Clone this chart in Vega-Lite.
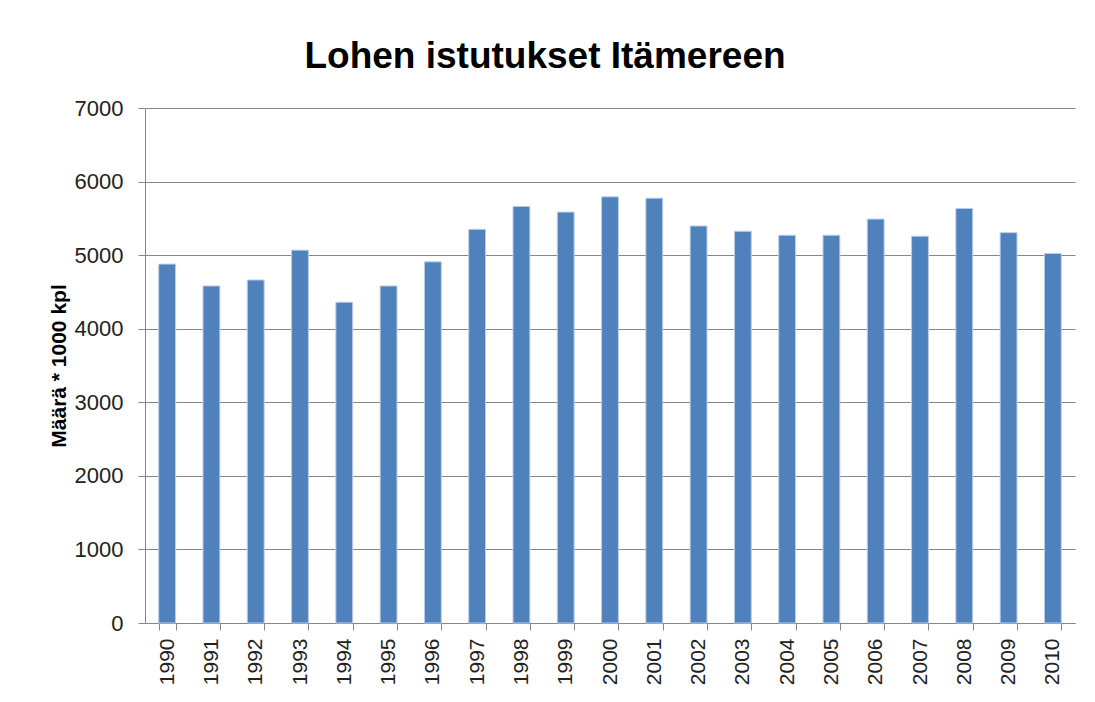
{
  "$schema": "https://vega.github.io/schema/vega-lite/v6.json",
  "autosize": {"type": "none"},
  "width": 930,
  "height": 515,
  "padding": {"left": 145, "top": 108, "right": 20, "bottom": 79},
  "background": "white",
  "title": {
    "text": "Lohen istutukset Itämereen",
    "font": "Liberation Sans",
    "fontSize": 37,
    "fontWeight": "bold",
    "color": "#000000",
    "anchor": "middle",
    "baseline": "alphabetic",
    "dx": -65,
    "dy": 48,
    "offset": 40
  },
  "data": {
    "values": [
      {"year": "1990", "value": 4878},
      {"year": "1991", "value": 4581},
      {"year": "1992", "value": 4662},
      {"year": "1993", "value": 5068},
      {"year": "1994", "value": 4360},
      {"year": "1995", "value": 4581},
      {"year": "1996", "value": 4909},
      {"year": "1997", "value": 5351},
      {"year": "1998", "value": 5662},
      {"year": "1999", "value": 5585},
      {"year": "2000", "value": 5792},
      {"year": "2001", "value": 5774},
      {"year": "2002", "value": 5396},
      {"year": "2003", "value": 5324},
      {"year": "2004", "value": 5270},
      {"year": "2005", "value": 5270},
      {"year": "2006", "value": 5490},
      {"year": "2007", "value": 5257},
      {"year": "2008", "value": 5635},
      {"year": "2009", "value": 5306},
      {"year": "2010", "value": 5022}
    ]
  },
  "mark": {"type": "bar", "color": "#4F81BD", "stroke": "#B9CDE5", "strokeWidth": 1},
  "encoding": {
    "x": {
      "field": "year",
      "type": "ordinal",
      "title": null,
      "scale": {"paddingInner": 0.62, "paddingOuter": 0.31},
      "axis": {
        "labelAngle": -90,
        "labelAlign": "right",
        "labelBaseline": "middle",
        "labelFont": "Liberation Sans",
        "labelFontSize": 21,
        "labelColor": "#222222",
        "labelPadding": 8,
        "domainColor": "#868686",
        "tickColor": "#868686",
        "tickSize": 7,
        "tickBand": "extent",
        "grid": false
      }
    },
    "y": {
      "field": "value",
      "type": "quantitative",
      "title": "Määrä * 1000 kpl",
      "scale": {"domain": [0, 7000], "nice": false},
      "axis": {
        "values": [0, 1000, 2000, 3000, 4000, 5000, 6000, 7000],
        "format": "d",
        "labelFont": "Liberation Sans",
        "labelFontSize": 22,
        "labelColor": "#222222",
        "labelPadding": 15,
        "titleFont": "Liberation Sans",
        "titleFontSize": 21,
        "titleFontWeight": "bold",
        "titleColor": "#000000",
        "titlePadding": 5,
        "domainColor": "#868686",
        "tickColor": "#868686",
        "tickSize": 7,
        "gridColor": "#868686",
        "gridWidth": 1
      }
    }
  },
  "config": {"view": {"stroke": null}}
}
